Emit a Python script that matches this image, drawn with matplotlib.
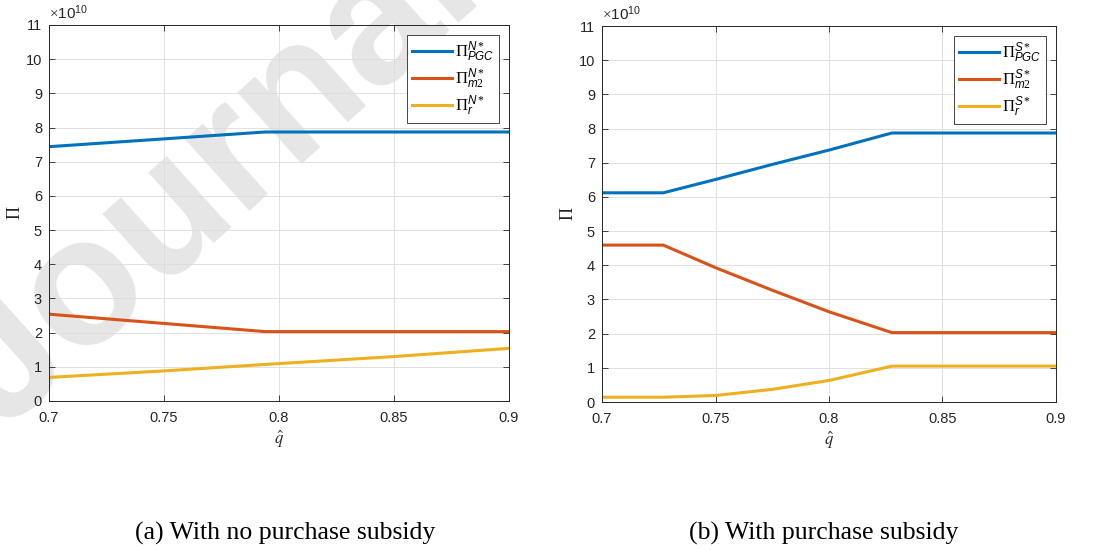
import numpy as np
import matplotlib
matplotlib.use("Agg")
import matplotlib.pyplot as plt

# panel (a): no purchase subsidy
q_a = [0.70, 0.794, 0.90]
pgc_a = [7.44, 7.87, 7.87]
m2_a = [2.54, 2.03, 2.03]
q_ar = [0.70, 0.75, 0.794, 0.85, 0.90]
r_a = [0.69, 0.88, 1.07, 1.30, 1.54]

# panel (b): with purchase subsidy
q_b = [0.70, 0.727, 0.75, 0.775, 0.80, 0.8277, 0.90]
pgc_b = [6.12, 6.12, 6.51, 6.95, 7.37, 7.87, 7.87]
m2_b = [4.59, 4.59, 3.93, 3.27, 2.64, 2.03, 2.03]
r_b = [0.14, 0.14, 0.19, 0.37, 0.63, 1.05, 1.05]

labels_a = [r"$\Pi^{\mathit{N*}}_{\mathit{PGC}}$", r"$\Pi^{\mathit{N*}}_{\mathit{m2}}$",
            r"$\Pi^{\mathit{N*}}_{\mathit{r}}$"]
labels_b = [r"$\Pi^{\mathit{S*}}_{\mathit{PGC}}$", r"$\Pi^{\mathit{S*}}_{\mathit{m2}}$",
            r"$\Pi^{\mathit{S*}}_{\mathit{r}}$"]

COLORS = ["#0072BD", "#D95319", "#EDB120"]
TXT = "#262626"

plt.rcParams["font.family"] = ["Liberation Sans", "DejaVu Sans"]
plt.rcParams["mathtext.fontset"] = "custom"
plt.rcParams["mathtext.rm"] = "Liberation Serif"
plt.rcParams["mathtext.it"] = "Liberation Sans:italic"
plt.rcParams["mathtext.sf"] = "Liberation Sans"

fig = plt.figure(figsize=(10.93, 5.5), dpi=100)

# faint watermark behind the axes
fig.text(0.002, 0.215, "Journal", fontsize=130, color="#e6e6e6", rotation=42,
         ha="left", va="baseline", rotation_mode="anchor", zorder=-5,
         fontweight="bold")


def style_axes(ax):
    ax.set_facecolor("none")
    ax.set_xlim(0.7, 0.9)
    ax.set_ylim(0, 11)
    ax.set_xticks([0.7, 0.75, 0.8, 0.85, 0.9])
    ax.set_xticklabels(["0.7", "0.75", "0.8", "0.85", "0.9"])
    ax.set_yticks(range(0, 12))
    ax.tick_params(direction="in", top=True, right=True, length=4,
                   labelsize=10.5, colors=TXT, width=0.6)
    ax.tick_params(axis="x", pad=7)
    ax.tick_params(axis="y", pad=5)
    for s in ax.spines.values():
        s.set_color(TXT)
        s.set_linewidth(0.7)
    ax.grid(True, color="#dcdcdc", linewidth=0.6)
    ax.set_axisbelow(True)
    ax.set_xlabel(r"$\hat{q}$", fontsize=12, color=TXT, labelpad=3,
                  family="Liberation Serif", math_fontfamily="stix")
    ax.set_ylabel(r"$\Pi$", fontsize=13, color=TXT, labelpad=1)
    ax.text(0.0, 1.008, r"$\times\mathsf{10^{10}}$", transform=ax.transAxes,
            fontsize=11, color=TXT, ha="left", va="bottom")


axA = fig.add_axes([49 / 1093, 1 - 401 / 550, 460 / 1093, 376 / 550])
axB = fig.add_axes([602 / 1093, 1 - 402 / 550, 454 / 1093, 376 / 550])

axA.plot(q_a, pgc_a, color=COLORS[0], lw=2.2, label=labels_a[0])
axA.plot(q_a, m2_a, color=COLORS[1], lw=2.2, label=labels_a[1])
axA.plot(q_ar, r_a, color=COLORS[2], lw=2.2, label=labels_a[2])

axB.plot(q_b, pgc_b, color=COLORS[0], lw=2.2, label=labels_b[0])
axB.plot(q_b, m2_b, color=COLORS[1], lw=2.2, label=labels_b[1])
axB.plot(q_b, r_b, color=COLORS[2], lw=2.2, label=labels_b[2])

for ax in (axA, axB):
    style_axes(ax)
    leg = ax.legend(loc="upper right", fontsize=12, fancybox=False,
                    edgecolor=TXT, handlelength=2.4, borderaxespad=0.6,
                    labelspacing=0.15, handletextpad=0.15, framealpha=1,
                    borderpad=0.3)
    leg.get_frame().set_linewidth(0.6)

fig.text(285 / 1093, 1 - 533 / 550, "(a) With no purchase subsidy",
         family="Liberation Serif", fontsize=18.5, ha="center", va="center")
fig.text(824 / 1093, 1 - 533 / 550, "(b) With purchase subsidy",
         family="Liberation Serif", fontsize=18.5, ha="center", va="center")

fig.savefig("out.png", dpi=100)
